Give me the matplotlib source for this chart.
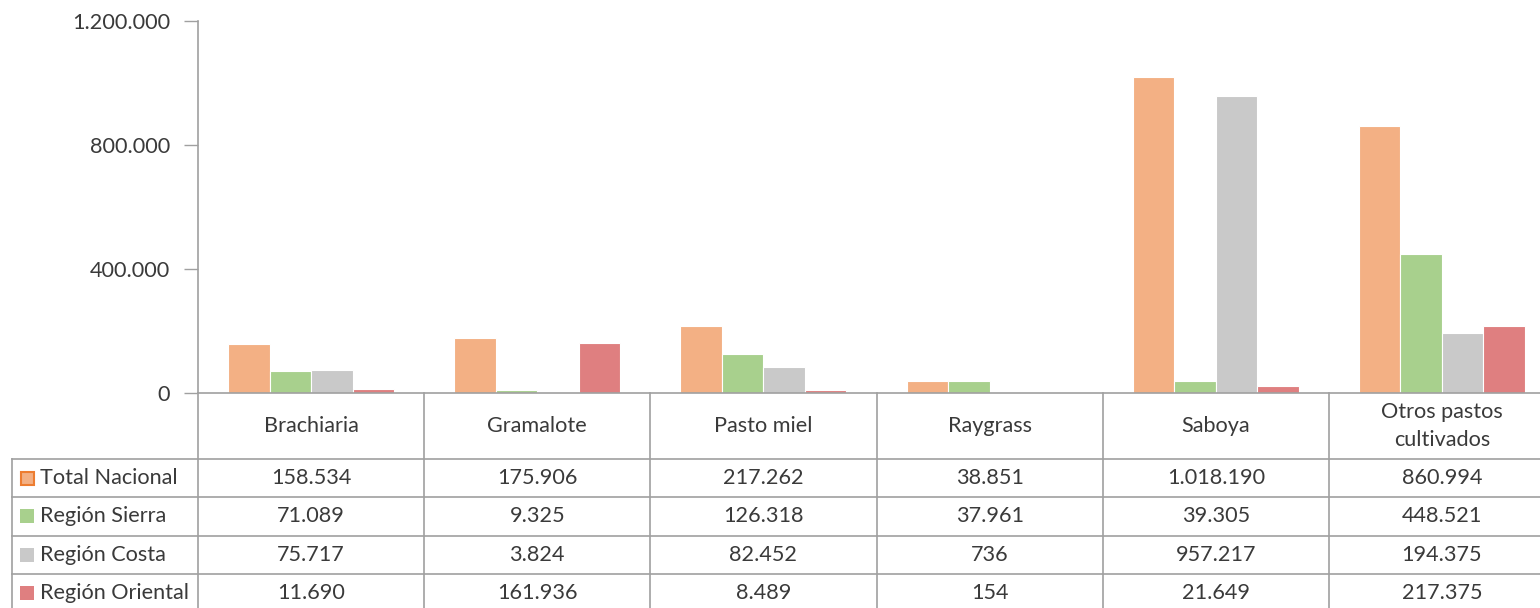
import matplotlib.pyplot as plt
import matplotlib.transforms as mtrans
from matplotlib.ticker import FuncFormatter
import numpy as np

categories = ['Brachiaria', 'Gramalote', 'Pasto miel', 'Raygrass', 'Saboya',
              'Otros pastos\ncultivados']
series = ['Total Nacional', 'Región Sierra', 'Región Costa', 'Región Oriental']
total_nacional = [158534, 175906, 217262, 38851, 1018190, 860994]
region_sierra = [71089, 9325, 126318, 37961, 39305, 448521]
region_costa = [75717, 3824, 82452, 736, 957217, 194375]
region_oriental = [11690, 161936, 8489, 154, 21649, 217375]
yticks = [0, 400000, 800000, 1200000]

values = [total_nacional, region_sierra, region_costa, region_oriental]
colors = ['#F3B084', '#A8D08D', '#C9C9C9', '#DF7F80']
edge_first = '#ED7D31'
grid_col = '#A0A0A0'
txt_col = '#3A3A3A'

plt.rcParams['font.family'] = ['Lato', 'DejaVu Sans']
fs = 15.6

W, H = 1540, 608
fig = plt.figure(figsize=(W / 100, H / 100), dpi=100)

def fmt(v):
    return f'{int(v):,}'.replace(',', '.')

# main bar area (plot area runs a bit past the right edge, as in the source)
ax = fig.add_axes([198 / W, (H - 393) / H, (1555 - 198) / W, (393 - 21) / H])
x = np.arange(len(categories))
bw = 0.1835
for j, vals in enumerate(values):
    ax.bar(x + (j - 1.5) * bw, vals, width=bw, color=colors[j],
           edgecolor='white', linewidth=0.8, zorder=2)

ax.set_xlim(-0.5, len(categories) - 0.5)
ax.set_ylim(0, 1200000)
ax.set_yticks(yticks)
ax.yaxis.set_major_formatter(FuncFormatter(lambda v, p: fmt(v)))
ax.set_xticks([])
ax.tick_params(axis='y', length=10, width=1, color=grid_col, pad=10,
               labelsize=fs, labelcolor=txt_col)
for s in ['top', 'right']:
    ax.spines[s].set_visible(False)
for s in ['left', 'bottom']:
    ax.spines[s].set_color(grid_col)
    ax.spines[s].set_linewidth(1.2)

# data table below the axis
tb = fig.add_axes([0, 0, 1, 1])
tb.set_xlim(0, W)
tb.set_ylim(H, 0)
tb.axis('off')
bt = mtrans.blended_transform_factory(ax.transData, tb.transData)

row_lines = [459, 497, 536, 574]
row_h = 38
lw = 1.2
for b in np.arange(-0.5, len(categories) - 0.5):
    tb.plot([b, b], [393, H], transform=bt, color=grid_col, lw=lw)
tb.plot([12, 12], [459, H], color=grid_col, lw=lw)
for y in row_lines:
    tb.plot([12, W], [y, y], color=grid_col, lw=lw)

for i, c in enumerate(categories):
    tb.text(i, 426, c, transform=bt, ha='center', va='center',
            fontsize=fs, color=txt_col, linespacing=1.5)

for j, (name, vals) in enumerate(zip(series, values)):
    yc = row_lines[j] + row_h / 2
    if j == 0:
        tb.add_patch(plt.Rectangle((21, yc - 6.5), 13, 13, facecolor=colors[j],
                                   edgecolor=edge_first, lw=1.5))
    else:
        tb.add_patch(plt.Rectangle((20, yc - 7), 14, 14, facecolor=colors[j],
                                   edgecolor='none'))
    tb.text(40, yc, name, ha='left', va='center', fontsize=fs, color=txt_col)
    for i, v in enumerate(vals):
        tb.text(i, yc, fmt(v), transform=bt, ha='center', va='center',
                fontsize=fs, color=txt_col)

fig.savefig('out.png', dpi=100)
